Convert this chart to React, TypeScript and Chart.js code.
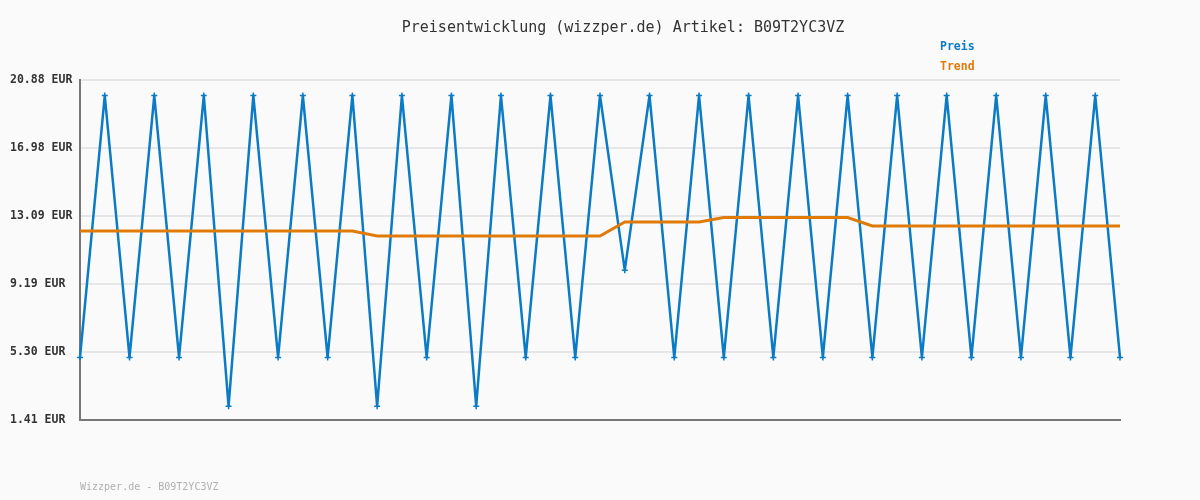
import React, { useEffect, useRef } from "react";
import { Chart, registerables } from "chart.js";

Chart.register(...registerables);

const TITLE = "Preisentwicklung (wizzper.de) Artikel: B09T2YC3VZ";
const FOOTER = "Wizzper.de - B09T2YC3VZ";

const preis = [
  4.99, 19.99, 4.99, 19.99, 4.99, 19.99, 2.2, 19.99, 4.99, 19.99,
  4.99, 19.99, 2.2, 19.99, 4.99, 19.99, 2.2, 19.99, 4.99, 19.99,
  4.99, 19.99, 9.99, 19.99, 4.99, 19.99, 4.99, 19.99, 4.99, 19.99,
  4.99, 19.99, 4.99, 19.99, 4.99, 19.99, 4.99, 19.99, 4.99, 19.99,
  4.99, 19.99, 4.99,
];

const trend = [
  12.23, 12.23, 12.23, 12.23, 12.23, 12.23, 12.23, 12.23, 12.23, 12.23,
  12.23, 12.23, 11.95, 11.95, 11.95, 11.95, 11.95, 11.95, 11.95, 11.95,
  11.95, 11.95, 12.75, 12.75, 12.75, 12.75, 13.0, 13.0, 13.0, 13.0,
  13.0, 13.0, 12.52, 12.52, 12.52, 12.52, 12.52, 12.52, 12.52, 12.52,
  12.52, 12.52, 12.52,
];

const yTicks = [1.41, 5.3, 9.19, 13.09, 16.98, 20.88];
const yTickLabels = ["1.41 EUR", "5.30 EUR", "9.19 EUR", "13.09 EUR", "16.98 EUR", "20.88 EUR"];

const labels = preis.map((_, i) => String(i + 1));

const BLUE = "#0b7bc6";
const ORANGE = "#e07b0a";
const MONO = "'DejaVu Sans Mono', 'Liberation Mono', monospace";

export default function App() {
  const ref = useRef<HTMLCanvasElement | null>(null);

  useEffect(() => {
    document.body.style.margin = "0";
    document.body.style.background = "#fafafa";
    const canvas = ref.current;
    if (!canvas) return;

    const bgPlugin = {
      id: "bg",
      beforeDraw(chart: any) {
        const ctx = chart.ctx;
        ctx.save();
        ctx.fillStyle = "#fafafa";
        ctx.fillRect(0, 0, chart.width, chart.height);
        ctx.restore();
      },
    };

    const textPlugin = {
      id: "texts",
      afterDraw(chart: any) {
        const ctx = chart.ctx;
        ctx.save();
        ctx.textBaseline = "middle";
        ctx.textAlign = "center";
        ctx.font = `15px ${MONO}`;
        ctx.fillStyle = "#333333";
        ctx.fillText(TITLE, 623, 28);
        ctx.textAlign = "left";
        ctx.font = `bold 11.5px ${MONO}`;
        ["Preis", "Trend"].forEach((name, i) => {
          const ds = chart.data.datasets.find((d: any) => d.label === name);
          ctx.fillStyle = ds ? ds.borderColor : "#333";
          ctx.fillText(name, 940, 47 + i * 20);
        });
        ctx.font = `10px ${MONO}`;
        ctx.fillStyle = "#b0b0b0";
        ctx.fillText(FOOTER, 80, 487);
        ctx.restore();
      },
    };

    const chart = new Chart(canvas, {
      type: "line",
      data: {
        labels,
        datasets: [
          {
            label: "Preis",
            data: preis,
            borderColor: BLUE,
            backgroundColor: BLUE,
            borderWidth: 2.5,
            borderJoinStyle: "round",
            tension: 0,
            pointStyle: "cross",
            pointRadius: 3,
            pointBorderWidth: 1.5,
            pointBorderColor: BLUE,
            order: 2,
          },
          {
            label: "Trend",
            data: trend,
            borderColor: ORANGE,
            backgroundColor: ORANGE,
            borderWidth: 3,
            tension: 0,
            pointRadius: 0,
            order: 1,
          },
        ],
      },
      options: {
        responsive: false,
        animation: false,
        layout: { padding: { left: 10, right: 80, top: 80, bottom: 80 } },
        plugins: {
          legend: { display: false },
          tooltip: { enabled: false },
          title: { display: false },
        },
        scales: {
          x: {
            offset: false,
            ticks: { display: false },
            grid: { display: false, drawTicks: false },
            border: { display: true, color: "#777777", width: 2 },
          },
          y: {
            min: 1.41,
            max: 20.88,
            afterBuildTicks(scale: any) {
              scale.ticks = yTicks.map((v) => ({ value: v }));
            },
            afterFit(scale: any) {
              scale.width = 70;
            },
            ticks: {
              crossAlign: "far",
              padding: 0,
              color: "#333333",
              font: { family: MONO, size: 11.5, weight: "bold" },
              callback(value: any) {
                const idx = yTicks.indexOf(Number(value));
                return idx >= 0 ? yTickLabels[idx] : "";
              },
            },
            grid: { color: "#e6e6e6", lineWidth: 2, drawTicks: false },
            border: { display: true, color: "#777777", width: 2 },
          },
        },
      },
      plugins: [bgPlugin, textPlugin],
    });

    return () => chart.destroy();
  }, []);

  return (
    <div style={{ width: 1200, height: 500, background: "#fafafa" }}>
      <canvas ref={ref} width={1200} height={500} style={{ display: "block" }} />
    </div>
  );
}
